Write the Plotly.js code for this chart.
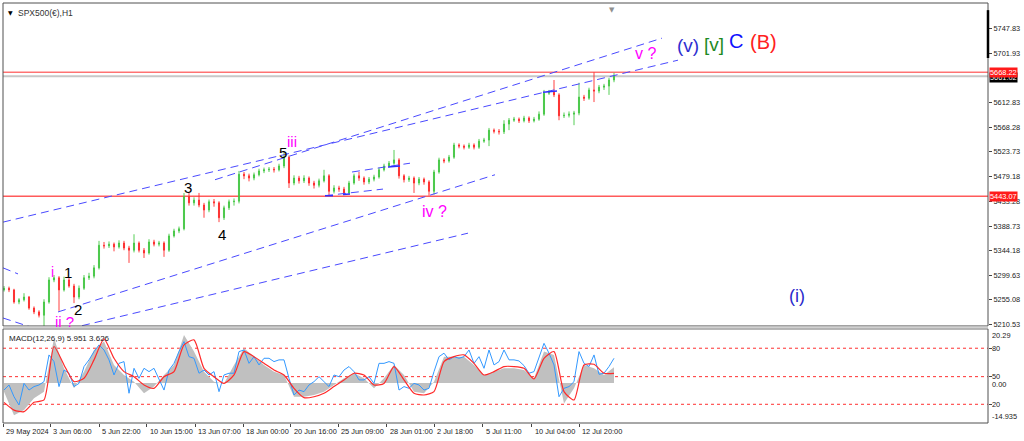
<!DOCTYPE html>
<html>
<head>
<meta charset="utf-8">
<script src="https://cdn.plot.ly/plotly-3.0.1.min.js"></script>
<style>
html,body{margin:0;padding:0;background:#fff;}
#chart{width:1024px;height:441px;}
</style>
</head>
<body>
<div id="chart"></div>
<script>
// ---------- DATA (H1 candles, one entry per bar slot) ----------
const candleOpen = [5273,5276,5273,5251,5255,5260,5240,5233,5227,5251,5291,5295,5273,5291,5280,5260,5276,5295,5298,5313,5354,5353,5356,5351,5358,5349,5345,5358,5345,5340,5360,5356,5358,5345,5371,5380,5384,5442,5431,5436,5427,5418,5433,5431,5404,5422,5433,5434,5483,5480,5476,5482,5489,5491,5492,5491,5498,5514,5467,5476,5471,5476,5467,5463,5471,5480,5452,5458,5456,5449,5467,5480,5476,5469,5474,5478,5491,5498,5503,5509,5480,5473,5476,5467,5474,5469,5452,5487,5509,5507,5514,5536,5534,5532,5536,5532,5543,5545,5563,5561,5560,5574,5581,5583,5580,5585,5580,5583,5592,5630,5632,5627,5589,5590,5592,5594,5623,5621,5636,5634,5641,5643,5654];
const candleHigh = [5280,5279,5275,5258,5267,5262,5243,5236,5256,5296,5300,5298,5297,5295,5284,5281,5300,5304,5318,5362,5360,5361,5359,5363,5362,5353,5374,5361,5349,5365,5364,5362,5361,5375,5384,5388,5449,5449,5441,5449,5431,5437,5438,5434,5426,5437,5439,5489,5487,5484,5486,5493,5495,5496,5496,5502,5522,5517,5481,5480,5481,5479,5471,5475,5491,5483,5463,5462,5460,5471,5484,5487,5479,5478,5482,5495,5502,5507,5527,5512,5483,5480,5479,5478,5477,5472,5491,5513,5512,5518,5540,5539,5537,5540,5539,5547,5549,5567,5566,5565,5581,5585,5587,5586,5589,5588,5587,5597,5636,5636,5654,5630,5595,5597,5598,5649,5627,5640,5668,5645,5647,5658,5667];
const candleLow = [5270,5269,5248,5247,5252,5237,5229,5223,5207,5248,5287,5235,5270,5277,5249,5256,5273,5291,5294,5310,5348,5349,5343,5348,5345,5322,5341,5341,5331,5337,5352,5352,5333,5342,5368,5376,5381,5426,5426,5423,5404,5414,5424,5396,5400,5418,5426,5430,5474,5470,5472,5479,5485,5487,5486,5488,5494,5458,5463,5466,5467,5462,5457,5459,5468,5445,5448,5451,5445,5446,5464,5471,5464,5465,5470,5475,5488,5495,5500,5475,5468,5469,5449,5463,5464,5444,5446,5484,5503,5504,5511,5530,5528,5529,5528,5529,5540,5534,5557,5555,5556,5563,5578,5576,5577,5576,5577,5580,5589,5627,5623,5581,5585,5586,5572,5590,5616,5618,5614,5630,5636,5627,5650];
const candleClose = [5276,5273,5251,5255,5260,5240,5233,5227,5251,5291,5295,5273,5291,5280,5260,5276,5295,5298,5313,5354,5353,5356,5351,5358,5349,5345,5358,5345,5340,5360,5356,5358,5345,5371,5380,5384,5442,5431,5436,5427,5418,5433,5431,5404,5422,5433,5434,5483,5480,5476,5482,5489,5491,5492,5491,5498,5514,5467,5476,5471,5476,5467,5463,5471,5480,5452,5458,5456,5449,5467,5480,5476,5469,5474,5478,5491,5498,5503,5509,5480,5473,5476,5467,5474,5469,5452,5487,5509,5507,5514,5536,5534,5532,5536,5532,5543,5545,5563,5561,5560,5574,5581,5583,5580,5585,5580,5583,5592,5630,5632,5627,5589,5590,5592,5594,5623,5621,5636,5634,5641,5643,5654,5661];

// MACD panel: main (histogram) and signal sampled every 2 bar slots
const macdMain   = [-3.2,-12.0,-10.1,-5.7,-3.2,16.8,5.55,-1.95,4.3,12.4,15.55,6.8,3.05,0.55,-3.8,-1.3,3.05,6.8,18.05,11.8,4.3,0.55,-0.1,6.8,13.05,9.9,6.8,4.3,3.05,-5.1,-5.1,-4.45,-3.2,-0.7,1.8,3.7,1.8,-1.95,1.8,6.8,3.05,-3.2,-3.8,0.55,9.9,9.9,9.9,6.8,3.05,4.3,5.55,5.55,4.9,1.8,11.8,10.55,-7.6,-1.95,6.8,5.55,3.05,5.95];
const macdSignal = [-7.2,-10.1,-10.7,-7.2,-6.3,13.7,6.8,0.55,1.8,8.7,16.55,9.3,4.3,2.4,-0.7,-1.95,2.4,4.3,14.3,16.2,5.55,2.4,-0.1,3.05,11.8,9.9,7.4,4.9,3.05,-1.95,-5.45,-5.1,-3.8,-1.3,1.2,3.7,3.05,-0.7,-0.1,6.2,1.2,-3.8,-4.45,-3.2,8.05,9.9,10.55,7.4,3.05,4.3,6.2,6.2,5.55,1.55,9.3,11.8,-3.2,-6.3,6.8,7.05,3.7,3.63];
// blue line, one value per bar slot
const macdBlue = [-2.6,-0.7,-5.1,-8.2,-0.1,-2.6,-1.3,-0.7,0.55,10.55,8.05,-1.3,4.9,3.7,-1.3,-0.1,6.2,8.7,11.8,14.3,12.4,8.7,3.05,7.4,8.05,-3.8,5.55,1.8,5.55,4.3,5.55,1.2,-2.6,4.9,7.4,11.8,15.55,9.9,9.3,3.7,4.9,3.05,4.3,-3.2,3.05,3.7,3.7,11.8,12.4,7.4,9.9,6.8,9.3,9.3,8.05,8.7,8.7,1.8,-4.45,-2.6,-3.2,-0.7,0.55,2.4,0.55,-1.3,3.05,2.4,4.9,6.2,4.3,1.2,1.2,2.4,-0.1,7.4,7.4,8.05,7.4,-2.6,-1.3,-1.95,-0.1,-0.7,-2.6,-1.95,4.3,9.9,11.2,8.7,9.9,9.3,9.9,12.4,7.4,9.9,5.55,12.4,6.8,8.05,12.4,8.7,8.7,8.3,6.55,3.7,4.3,9.9,14.9,11.2,6.8,-5.1,-1.95,-1.3,0.55,11.8,7.4,6.2,10.55,3.3,3.7,6.2,9.3];
const macdLevelValues = [13.06, 2.42, -7.93];
const macdLevelLabels = ["80", "50", "20"];
const macdScaleLabels = ["20.29", "0.00", "-14.935"];
const macdScaleValues = [20.29, 0, -14.935];

// Price axis ticks and horizontal levels
const priceTicks = [5747.83,5701.93,5612.83,5568.28,5523.73,5479.18,5433.28,5388.73,5344.18,5299.63,5255.08,5210.53];
const redLevels = [5668.22, 5443.07];
const bidPrice = 5661.02;

// Time axis (bar slot positions of the date labels)
const timeTickBars = [-0.2, 9.2, 19, 28.54, 38.2, 47.86, 57.34, 66.86, 76.54, 86.06, 95.74, 105.54, 115];
const timeTickLabels = ["29 May 2024","3 Jun 06:00","5 Jun 22:00","10 Jun 15:00","13 Jun 07:00","18 Jun 00:00","20 Jun 16:00","25 Jun 09:00","28 Jun 01:00","2 Jul 18:00","5 Jul 11:00","10 Jul 04:00","12 Jul 20:00"];

// Hand-drawn trend lines (bar slot, price)
const dashedX0 = [-0.2, 42.2, 10.8, 15.6, -0.2, -0.2, 69.6, 64.2];
const dashedY0 = [5396, 5473, 5233, 5208, 5313, 5222, 5487, 5444];
const dashedX1 = [134.8, 131.6, 98.2, 92.8, 2.8, 5.2, 81.2, 75.8];
const dashedY1 = [5690, 5730, 5482, 5376, 5302, 5206, 5503, 5456];
const solidX0 = [64.2, 67.8, 76.8, 107.8];
const solidY0 = [5444, 5446, 5496, 5632];
const solidX1 = [65.8, 69.2, 79.2, 110.6];
const solidY1 = [5444, 5447, 5498, 5634];

// Wave labels
const waveText  = ["i","1","2","ii ?","3","4","5","iii","iv ?","v ?","(v)","[v]","C","(B)","(i)"];
const waveBar   = [9.6, 12.8, 14.8, 12.0, 36.8, 43.6, 55.8, 57.6, 86.0, 128.2, 136.8, 142.0, 146.4, 151.8, 158.6];
const wavePrice = [5305, 5304, 5237, 5215, 5458, 5374, 5523, 5542, 5416, 5703, 5717, 5719, 5725, 5723, 5262];

// ---------- STYLES ----------
const MAG = '#ff00ff';
const waveStyle = {
  "i":{c:MAG,s:14}, "1":{c:'#000',s:15}, "2":{c:'#000',s:15}, "ii ?":{c:MAG,s:15},
  "3":{c:'#000',s:15}, "4":{c:'#000',s:15}, "5":{c:'#000',s:15}, "iii":{c:MAG,s:15},
  "iv ?":{c:MAG,s:16}, "v ?":{c:MAG,s:16}, "(v)":{c:'#2f2fd0',s:19}, "[v]":{c:'#1f8a1f',s:19},
  "C":{c:'#1010ff',s:20}, "(B)":{c:'#ff2020',s:20}, "(i)":{c:'#2a2acc',s:18}
};
const AXF = {family:'Liberation Sans, Arial, sans-serif', size:7.4, color:'#222'};

const bars = candleOpen.map((_, i) => i);
const macdBars = macdMain.map((_, j) => 2 * j);

const traces = [];
traces.push({
  type:'candlestick', x:bars, open:candleOpen, high:candleHigh, low:candleLow, close:candleClose,
  xaxis:'x', yaxis:'y', showlegend:false, hoverinfo:'skip',
  increasing:{line:{color:'#44c844', width:0.9}, fillcolor:'#2f9f2f'},
  decreasing:{line:{color:'#ff2a2a', width:0.9}, fillcolor:'#d81818'},
  whiskerwidth:0
});
for (let k = 0; k < dashedX0.length; k++) {
  traces.push({type:'scatter', mode:'lines', x:[dashedX0[k], dashedX1[k]], y:[dashedY0[k], dashedY1[k]],
    xaxis:'x', yaxis:'y', showlegend:false, hoverinfo:'skip',
    line:{color:'#4a4aff', width:1, dash:'8px,5px'}});
}
for (let k = 0; k < solidX0.length; k++) {
  traces.push({type:'scatter', mode:'lines', x:[solidX0[k], solidX1[k]], y:[solidY0[k], solidY1[k]],
    xaxis:'x', yaxis:'y', showlegend:false, hoverinfo:'skip',
    line:{color:'#3030ff', width:1.5}});
}
traces.push({type:'scatter', mode:'lines', x:macdBars, y:macdMain, fill:'tozeroy', fillcolor:'#c0c0c0',
  line:{width:0, color:'#c0c0c0'}, xaxis:'x', yaxis:'y2', showlegend:false, hoverinfo:'skip'});
traces.push({type:'scatter', mode:'lines', x:bars, y:macdBlue,
  line:{width:1, color:'#3399ff'}, xaxis:'x', yaxis:'y2', showlegend:false, hoverinfo:'skip'});
traces.push({type:'scatter', mode:'lines', x:macdBars, y:macdSignal, line:{width:1.2, color:'#ff2a2a', shape:'spline', smoothing:0.6},
  xaxis:'x', yaxis:'y2', showlegend:false, hoverinfo:'skip'});

const MAIN_DOM = [0.231, 1];
const MACD_DOM = [0, 0.224];

const shapes = [];
shapes.push({type:'line', xref:'paper', x0:0, x1:1, yref:'y', y0:bidPrice, y1:bidPrice, line:{color:'#c8c8c8', width:2}, layer:'below'});
shapes.push({type:'line', xref:'paper', x0:0, x1:1, yref:'y', y0:redLevels[0], y1:redLevels[0], line:{color:'#ff3030', width:1}, layer:'below'});
shapes.push({type:'line', xref:'paper', x0:0, x1:1, yref:'y', y0:redLevels[1], y1:redLevels[1], line:{color:'#ff5a5a', width:1.6}, layer:'below'});
macdLevelValues.forEach(v => shapes.push({type:'line', xref:'paper', x0:0, x1:1, yref:'y2', y0:v, y1:v,
  line:{color:'#ff3030', width:1, dash:'3px,3px'}, layer:'below'}));
shapes.push({type:'rect', xref:'paper', yref:'paper', x0:0, x1:1, y0:MAIN_DOM[0], y1:MAIN_DOM[1], line:{color:'#505050', width:1}});
shapes.push({type:'rect', xref:'paper', yref:'paper', x0:0, x1:1, y0:MACD_DOM[0], y1:MACD_DOM[1], line:{color:'#505050', width:1}});
shapes.push({type:'line', xref:'paper', yref:'paper', x0:0, x1:1, y0:(MAIN_DOM[0]+MACD_DOM[1])/2, y1:(MAIN_DOM[0]+MACD_DOM[1])/2, line:{color:'#d0d0d0', width:2}});
shapes.push({type:'line', xref:'paper', yref:'paper', x0:1, x1:1, y0:0.869, y1:0.983, line:{color:'#000', width:2.5}});
shapes.push({type:'rect', xref:'paper', yref:'paper', x0:-0.01, x1:1.05, y0:-0.046, y1:-0.06, line:{width:0}, fillcolor:'#eeeeee'});

const annotations = [];
waveText.forEach((t, k) => {
  const st = waveStyle[t];
  annotations.push({x:waveBar[k], y:wavePrice[k], xref:'x', yref:'y', text:t, showarrow:false,
    font:{family:'Liberation Sans, Arial, sans-serif', size:st.s, color:st.c}, xanchor:'center', yanchor:'middle'});
});
timeTickLabels.forEach((t, k) => {
  annotations.push({x:timeTickBars[k], y:0, xref:'x', yref:'paper', text:t, showarrow:false,
    xanchor:'left', yanchor:'top', yshift:-2, xshift:1, font:AXF});
});
// price label boxes (bid first so the red box sits on top, as in the terminal)
annotations.push({x:1, xref:'paper', y:bidPrice, yref:'y', text:bidPrice.toFixed(2), showarrow:false,
  xanchor:'left', yanchor:'middle', bgcolor:'#000', font:Object.assign({}, AXF, {color:'#fff'}), borderpad:0, xshift:1, yshift:-1});
annotations.push({x:1, xref:'paper', y:redLevels[0], yref:'y', text:redLevels[0].toFixed(2), showarrow:false,
  xanchor:'left', yanchor:'middle', bgcolor:'#ff1a1a', font:Object.assign({}, AXF, {color:'#fff'}), borderpad:0, xshift:1});
annotations.push({x:1, xref:'paper', y:redLevels[1], yref:'y', text:redLevels[1].toFixed(2), showarrow:false,
  xanchor:'left', yanchor:'middle', bgcolor:'#ff1a1a', font:Object.assign({}, AXF, {color:'#fff'}), borderpad:0, xshift:1});
macdScaleValues.forEach((v, k) => {
  annotations.push({x:1, xref:'paper', y:v, yref:'y2', text:macdScaleLabels[k], showarrow:false,
    xanchor:'left', yanchor: k === 0 ? 'top' : (k === 2 ? 'bottom' : 'middle'), xshift:2, yshift: k === 1 ? -1 : 0, font:AXF});
});
macdLevelValues.forEach((v, k) => {
  annotations.push({x:1, xref:'paper', y:v, yref:'y2', text:macdLevelLabels[k], showarrow:false,
    xanchor:'left', yanchor:'middle', xshift:2, font:AXF});
});
annotations.push({x:0, xref:'paper', y:1, yref:'paper', text:'\u25BC', showarrow:false, xanchor:'left', yanchor:'top',
  xshift:3, yshift:-4, font:{family:'DejaVu Sans', size:6, color:'#000'}});
annotations.push({x:0, xref:'paper', y:1, yref:'paper', text:'SPX500(\u20AC),H1', showarrow:false, xanchor:'left', yanchor:'top',
  xshift:13, yshift:-3, font:{family:'Liberation Sans, Arial, sans-serif', size:8.5, color:'#333'}});
annotations.push({x:0, xref:'paper', y:MACD_DOM[1], yref:'paper', text:'MACD(12,26,9) 5.951 3.626', showarrow:false,
  xanchor:'left', yanchor:'top', xshift:4, yshift:-3, font:{family:'Liberation Sans, Arial, sans-serif', size:8, color:'#222'}});
annotations.push({x:121.6, xref:'x', y:1, yref:'paper', text:'\u25BC', showarrow:false, xanchor:'center', yanchor:'top',
  yshift:-1, font:{family:'DejaVu Sans', size:7, color:'#909090'}});

const layout = {
  width:1024, height:441,
  margin:{l:3, r:36, t:3, b:18},
  paper_bgcolor:'#ffffff', plot_bgcolor:'#ffffff',
  showlegend:false,
  boxgap:0.7,
  xaxis:{range:[-0.2, 196.8], anchor:'y2', showgrid:false, zeroline:false, showline:false,
    tickvals:timeTickBars, ticks:'outside', ticklen:3, tickcolor:'#444', showticklabels:false,
    rangeslider:{visible:false}, fixedrange:true},
  yaxis:{domain:MAIN_DOM, range:[5207.5, 5793.8], side:'right', showgrid:false, zeroline:false,
    tickvals:priceTicks, ticktext:priceTicks.map(v => v.toFixed(2)), ticks:'outside', ticklen:3, tickcolor:'#444',
    tickfont:AXF, showline:false, fixedrange:true},
  yaxis2:{domain:MACD_DOM, range:[-14.935, 20.29], side:'right', showgrid:false, zeroline:false,
    showticklabels:false, tickvals:macdLevelValues, ticks:'outside', ticklen:3, tickcolor:'#444', showline:false, fixedrange:true},
  shapes:shapes,
  annotations:annotations
};

Plotly.newPlot('chart', traces, layout, {displayModeBar:false, staticPlot:true});
</script>
</body>
</html>
